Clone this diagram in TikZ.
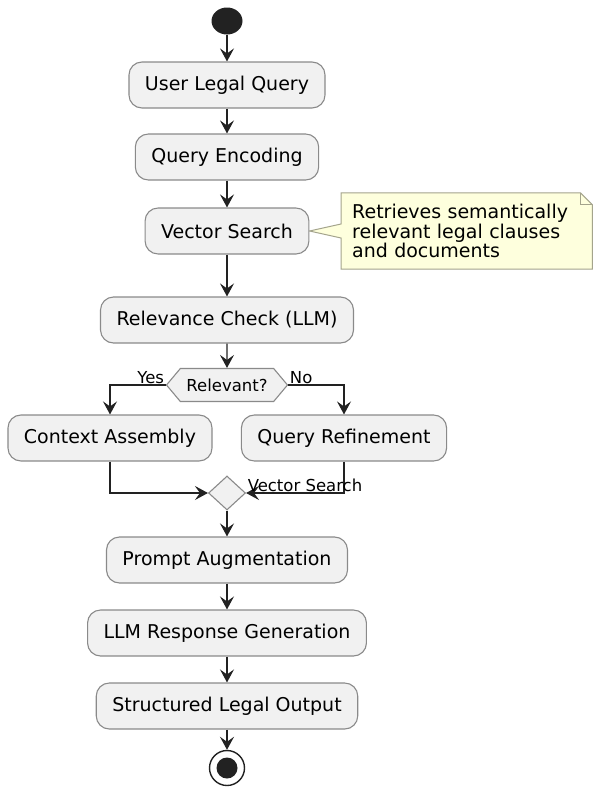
\documentclass[tikz,border=0pt]{standalone}
\usepackage{fontspec}
\setmainfont{DejaVu Sans}
\usetikzlibrary{shapes, arrows.meta, backgrounds}
\definecolor{actfill}{HTML}{F1F1F1}
\definecolor{actline}{HTML}{8A8A8A}
\definecolor{flowline}{HTML}{222222}
\definecolor{notefill}{HTML}{FEFFDD}
\definecolor{noteline}{HTML}{A4A48C}

\begin{document}
\begin{tikzpicture}[x=1pt, y=-1pt,
		act/.style={draw=actline, fill=actfill, line width=1.1pt, rounded corners=13pt, minimum height=46pt, inner xsep=16pt, font=\fontsize{19}{22}\selectfont},
		flow/.style={draw=flowline, line width=1.4pt, -{Stealth[length=13pt, width=14pt, inset=5pt]}},
		small/.style={font=\fontsize{16.5}{20}\selectfont, inner sep=1pt}]
		\useasboundingbox (0,0) rectangle (594,787);
		\def\cx{227}
		\node[ellipse, fill=flowline, minimum width=31pt, minimum height=27pt, inner sep=0pt] (start) at (\cx, 21) {};
		\foreach \nm/\y/\txt in {query/85/User Legal Query, enc/157/Query Encoding, vsearch/231/Vector Search, check/320/Relevance Check (LLM), prompt/560/Prompt Augmentation, gen/633/LLM Response Generation, out/706/Structured Legal Output}{
			\node[act] (\nm) at (\cx, \y) {\txt};
		}
		\node[signal, signal to=west and east, signal pointer angle=100, draw=actline, fill=actfill, line width=1.1pt, minimum width=121pt, minimum height=33pt, inner sep=0pt, font=\fontsize{16.5}{20}\selectfont] (rel) at (\cx, 385) {Relevant?};
		\node[act] (ctx) at (110, 438) {Context Assembly};
		\node[act] (refine) at (344, 438) {Query Refinement};
		\node[diamond, draw=actline, fill=actfill, line width=1.1pt, minimum width=37pt, minimum height=34pt, inner sep=0pt] (merge) at (\cx, 493) {};
		\node[circle, draw=flowline, fill=white, line width=1.4pt, minimum size=35pt, inner sep=0pt] (stop) at (\cx, 768) {};
		\fill[flowline] (stop) circle (10.5pt);

		\node[anchor=west, text width=229pt, align=left, inner xsep=11pt, inner ysep=8pt, minimum height=76pt, font=\fontsize{19}{19.5}\selectfont] (note) at (341, 231) {Retrieves semantically\\relevant legal clauses\\and documents};
		\begin{pgfonlayer}{background}
			\filldraw[fill=notefill, draw=noteline, line width=1pt] (note.north west) -- ([xshift=-12pt]note.north east) -- ([yshift=-12pt]note.north east) -- (note.south east) -- (note.south west) -- ([yshift=-7pt]note.west) -- (vsearch.east) -- ([yshift=7pt]note.west) -- cycle;
			\draw[noteline, line width=1pt] ([xshift=-12pt]note.north east) |- ([yshift=-12pt]note.north east);
		\end{pgfonlayer}

		\foreach \a/\b in {start/query, query/enc, enc/vsearch, vsearch/check, check/rel, merge/prompt, prompt/gen, gen/out, out/stop}{
			\draw[flow] (\a) -- (\b);
		}
		\draw[flow] (rel.west) -| node[small, pos=0, anchor=south east]{Yes} (ctx.north);
		\draw[flow] (rel.east) -| node[small, pos=0, anchor=south west]{No} (refine.north);
		\draw[flow] (ctx.south) |- (merge.west);
		\draw[flow] (refine.south) |- node[small, pos=1, anchor=south west]{Vector Search} (merge.east);
	\end{tikzpicture}
\end{document}
